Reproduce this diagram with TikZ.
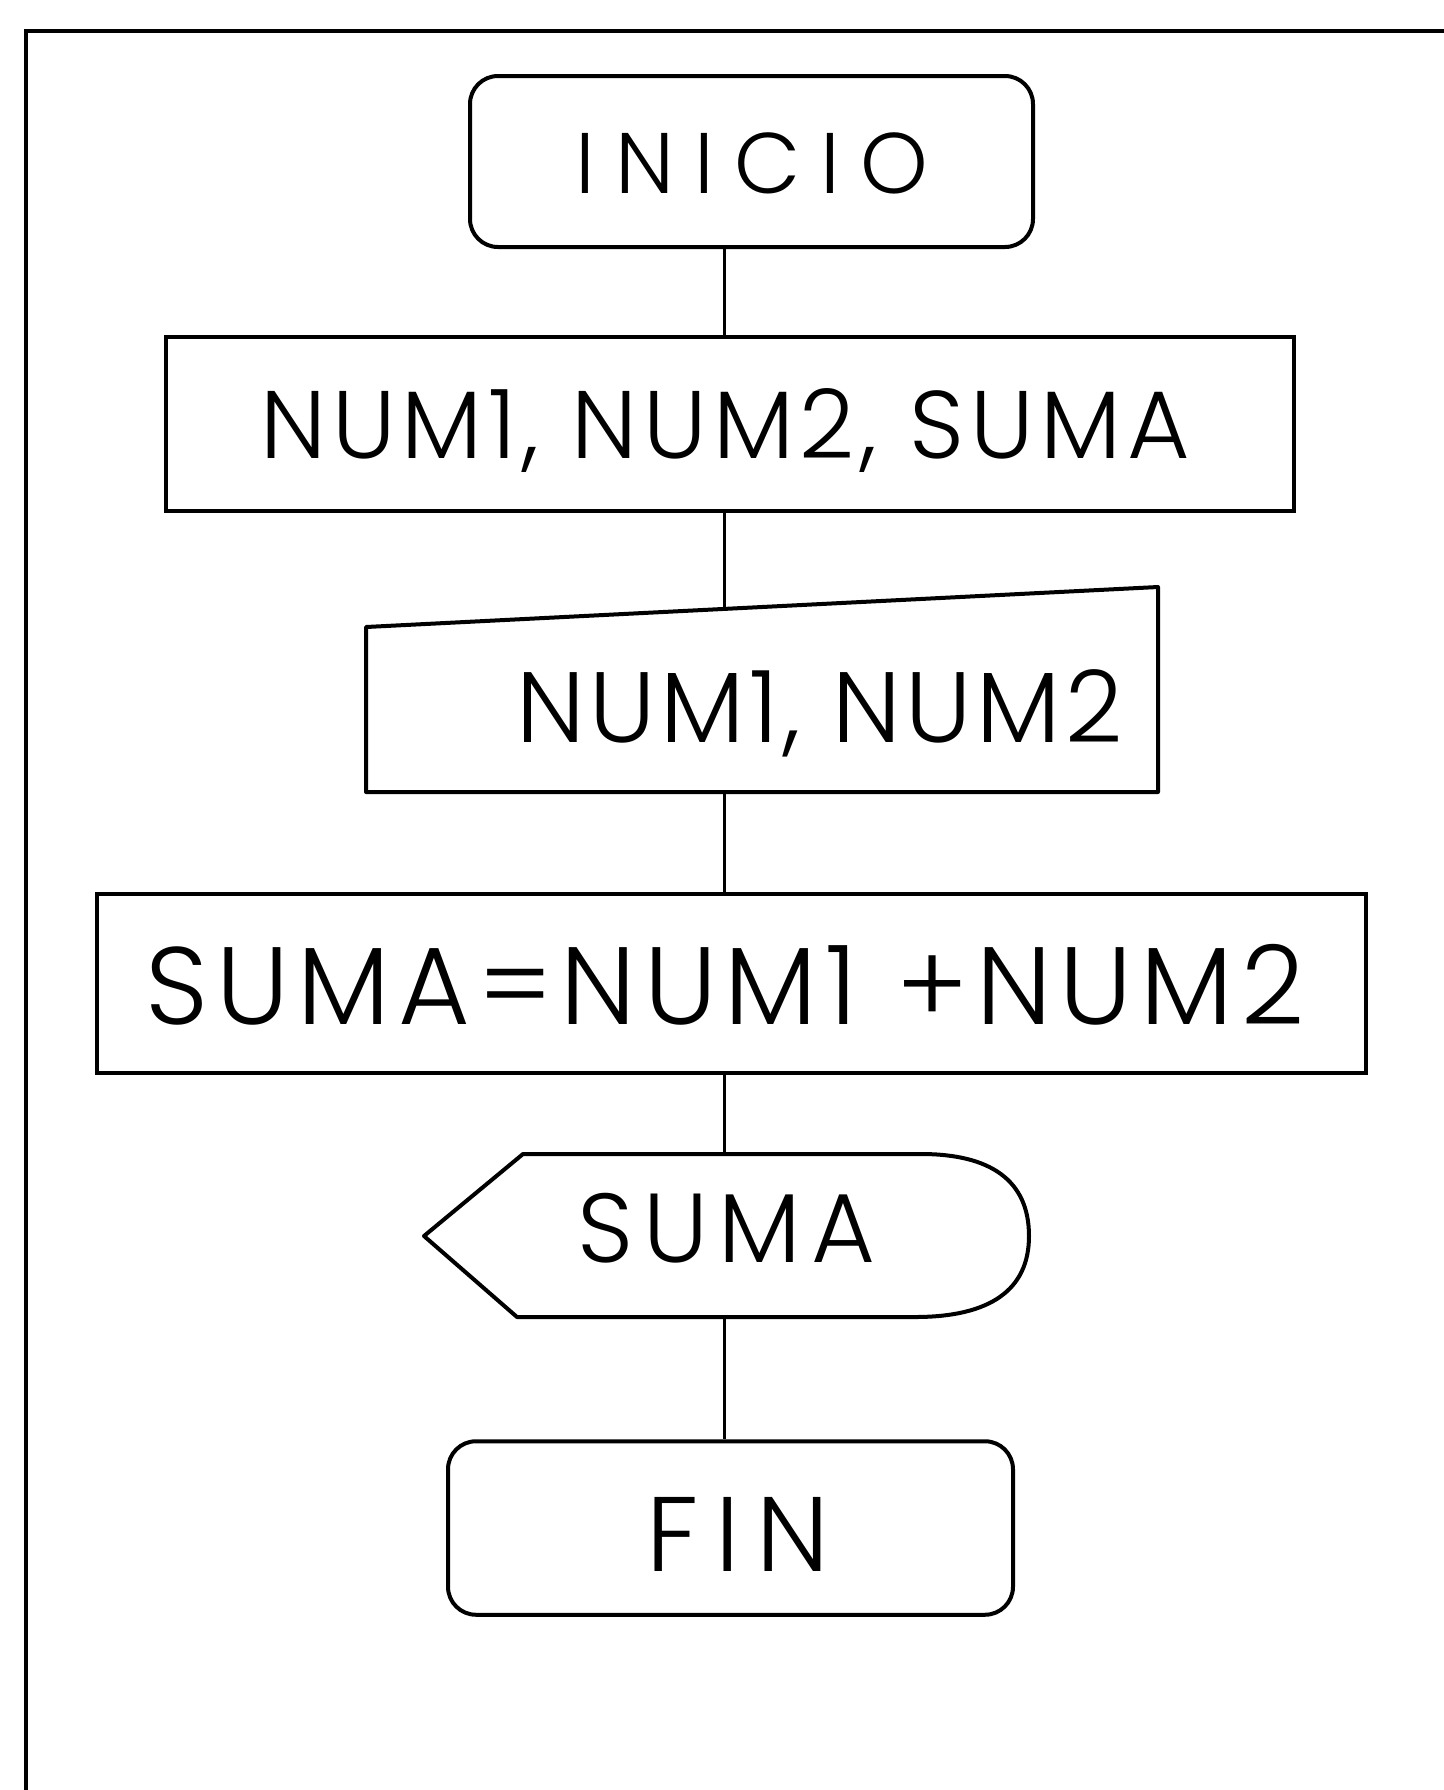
\documentclass[tikz,border=0pt]{standalone}
\usepackage{fontspec}
\IfFontExistsTF{Poppins Light}{\setmainfont{Poppins Light}}{\setmainfont{Poppins}}
\begin{document}
\begin{tikzpicture}[x=0.5pt,y=-0.5pt,
  term/.style={draw,line width=2pt,rounded corners=14pt,inner sep=0pt},
  proc/.style={draw,line width=2pt,inner sep=0pt},
  outline/.style={line width=2pt,line join=round},
  conn/.style={line width=1.5pt},
  lbl/.style={anchor=base,inner sep=0pt}]
\useasboundingbox (0,0) rectangle (1444,1790);
\fill[white] (0,0) rectangle (1444,1790);
% frame
\draw[line width=2pt] (26,1790) -- (26,31) -- (1444,31);
% spine for connectors
\coordinate (spine) at (724,0);
% INICIO
\node[term,minimum width=281.5pt,minimum height=85.5pt] (inicio) at (751.5,161.5) {};
\node[lbl,font=\fontsize{43}{43}\selectfont\addfontfeature{LetterSpace=23.5}] (tinicio) at (752,193) {INICIO};
% declaration
\node[proc,minimum width=564pt,minimum height=86.75pt] (decl) at (730,424) {};
\node[lbl,font=\fontsize{48}{48}\selectfont\addfontfeature{LetterSpace=6.3}] (tdecl) at (725,458) {NUM1, NUM2, SUMA};
% manual input
\draw[outline] (366,627) -- (1158,587) -- (1158,792) -- (366,792) -- cycle;
\coordinate (mitop) at (724,609);
\coordinate (mibot) at (724,792);
\node[lbl,font=\fontsize{50}{50}\selectfont\addfontfeature{LetterSpace=4.6}] (tinput) at (819.5,742) {NUM1, NUM2};
% process
\node[proc,minimum width=634.5pt,minimum height=89.5pt] (calc) at (731.5,983.5) {};
\node[lbl,font=\fontsize{55}{55}\selectfont\addfontfeature{LetterSpace=7.4}] (tcalc) at (725,1024) {SUMA=NUM1 +NUM2};
% display
\draw[outline] (424,1236) -- (523,1154) -- (921,1154)
  .. controls (990,1154) and (1029,1180) .. (1029,1236)
  .. controls (1029,1290) and (990,1317) .. (915,1317)
  -- (517,1317) -- cycle;
\coordinate (dptop) at (724,1154);
\coordinate (dpbot) at (724,1317);
\node[lbl,font=\fontsize{49}{49}\selectfont\addfontfeature{LetterSpace=10.5}] (tdisp) at (726.5,1262) {SUMA};
% FIN
\node[term,minimum width=282.5pt,minimum height=86.75pt] (fin) at (730.5,1528) {};
\node[lbl,font=\fontsize{53}{53}\selectfont\addfontfeature{LetterSpace=15.6}] (tfin) at (738,1571) {FIN};
% connectors
\draw[conn] (inicio.south -| spine) -- (decl.north -| spine);
\draw[conn] (decl.south -| spine) -- (mitop);
\draw[conn] (mibot) -- (calc.north -| spine);
\draw[conn] (calc.south -| spine) -- (dptop);
\draw[conn] (dpbot) -- (fin.north -| spine);
\end{tikzpicture}
\end{document}
